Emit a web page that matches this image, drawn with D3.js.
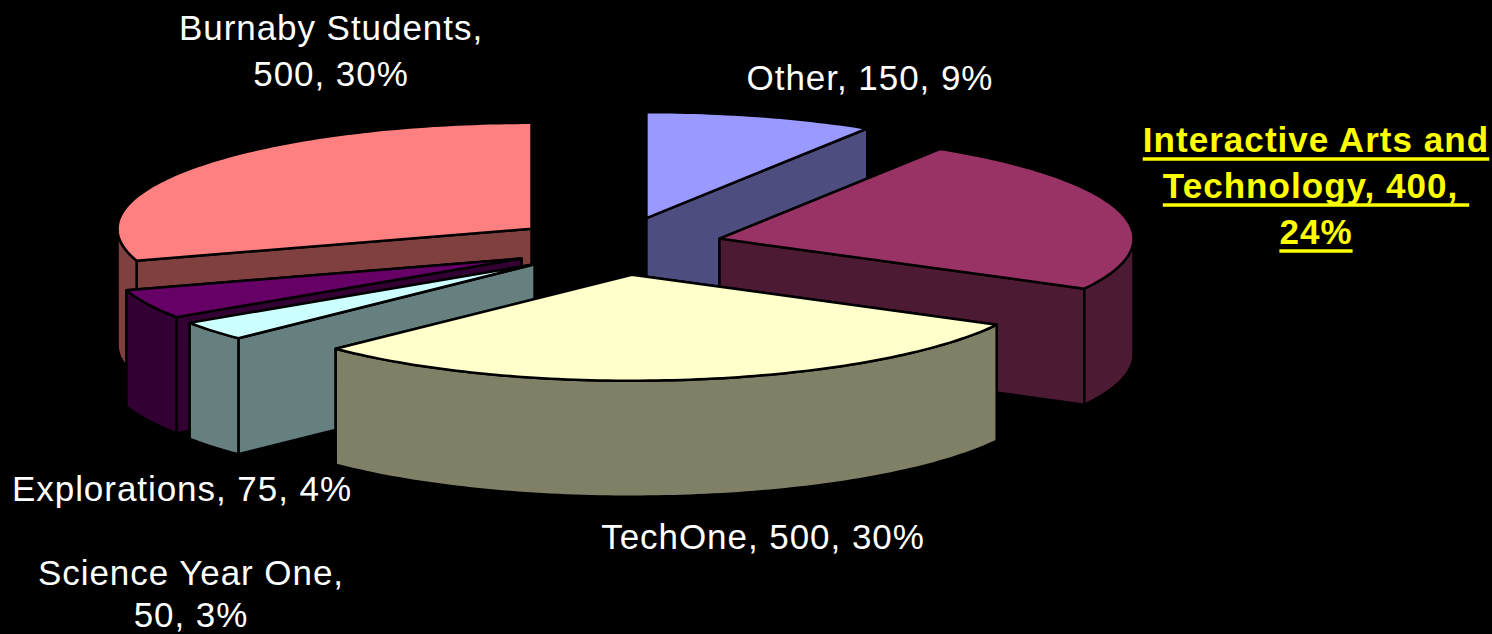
<!DOCTYPE html>
<html>
<head>
<meta charset="utf-8">
<script src="https://cdn.jsdelivr.net/npm/d3@7"></script>
<style>
  html, body { margin: 0; background: #000; overflow: hidden; }
  text { font-family: "Liberation Sans", Arial, sans-serif; font-size: 35px; fill: #fff; letter-spacing: 0.95px; white-space: pre; }
  text.highlight { font-weight: bold; fill: #ffff00; letter-spacing: 1.05px; }
</style>
</head>
<body>
<script>
// data, clockwise from 12 o'clock
const categories = ["Other", "Interactive Arts and Technology", "TechOne", "Science Year One", "Explorations", "Burnaby Students"];
const values = [150, 400, 500, 50, 75, 500];
const topColors = ["#9999ff", "#993366", "#ffffcc", "#ccffff", "#660066", "#ff8080"];
const sideColors = ["#4d4d80", "#4d1a33", "#808066", "#668080", "#330033", "#804040"];
// label text split in lines
const labelLines = [
  ["Other, 150, 9%"],
  ["Interactive Arts and", "Technology, 400, ", "24%"],
  ["TechOne, 500, 30%"],
  ["Science Year One,", "50, 3%"],
  ["Explorations, 75, 4%"],
  ["Burnaby Students,", "500, 30%"]
];

const width = 1492, height = 634;
const center = { x: 617, y: 246 };
const radius = { x: 414, y: 106 };
const explode = { x: 106, y: 29 };
const depth = 116;

// where each label sits (centre x, first baseline y)
const labelPos = [[870, 90], [1316, 152], [763, 549], [191, 585], [182, 501], [331, 40]];
const lineHeight = [0, 46, 0, 42, 0, 46];

const svg = d3.select("body").append("svg")
  .attr("width", width)
  .attr("height", height);

svg.append("rect")
  .attr("width", width)
  .attr("height", height)
  .attr("fill", "#000");

// x/y scales take the unit circle to the flattened ellipse
const xScale = d3.scaleLinear().domain([-1, 1]).range([-radius.x, radius.x]);
const yScale = d3.scaleLinear().domain([-1, 1]).range([-radius.y, radius.y]);

const pie = d3.pie().sort(null).value(d => d)(values);
const line = d3.line();

function rimPoint(a, drop) {
  return [xScale(Math.sin(a)), yScale(-Math.cos(a)) + drop];
}

function arcPoints(a0, a1, drop) {
  const n = Math.max(2, Math.ceil((a1 - a0) / 0.02));
  return d3.range(n + 1).map(i => rimPoint(a0 + (a1 - a0) * i / n, drop));
}

// back slices first, nearest last
const drawOrder = [5, 0, 1, 4, 3, 2];

drawOrder.forEach(i => {
  const d = pie[i];
  const mid = (d.startAngle + d.endAngle) / 2;
  const g = svg.append("g")
    .attr("transform", `translate(${center.x + explode.x * Math.sin(mid)},${center.y - explode.y * Math.cos(mid)})`)
    .attr("stroke", "#000")
    .attr("stroke-width", 2.5)
    .attr("stroke-linejoin", "round");

  // cut faces, the one lower on screen goes on top
  [d.startAngle, d.endAngle]
    .sort((a, b) => rimPoint(a, 0)[1] - rimPoint(b, 0)[1])
    .forEach(a => {
      g.append("path")
        .attr("d", line([[0, 0], rimPoint(a, 0), rimPoint(a, depth), [0, depth]]) + "Z")
        .attr("fill", sideColors[i]);
    });

  // outer wall, only the part that faces us
  const a0 = Math.max(d.startAngle, Math.PI / 2);
  const a1 = Math.min(d.endAngle, Math.PI * 1.5);
  if (a1 > a0) {
    g.append("path")
      .attr("d", line(arcPoints(a0, a1, 0).concat(arcPoints(a0, a1, depth).reverse())) + "Z")
      .attr("fill", sideColors[i]);
  }

  // top
  g.append("path")
    .attr("d", line([[0, 0]].concat(arcPoints(d.startAngle, d.endAngle, 0))) + "Z")
    .attr("fill", topColors[i]);
});

// labels
labelLines.forEach((lines, i) => {
  const t = svg.append("text")
    .attr("class", i === 1 ? "highlight" : null)
    .attr("text-anchor", "middle")
    .attr("x", labelPos[i][0])
    .attr("y", labelPos[i][1]);
  lines.forEach((s, j) => {
    const span = t.append("tspan")
      .attr("x", labelPos[i][0])
      .attr("dy", j === 0 ? 0 : lineHeight[i])
      .text(s);
    // the selected label has a heavy underline
    if (i === 1) {
      const len = span.node().getComputedTextLength();
      svg.append("line")
        .attr("x1", labelPos[i][0] - len / 2)
        .attr("x2", labelPos[i][0] + len / 2)
        .attr("y1", labelPos[i][1] + j * lineHeight[i] + 7)
        .attr("y2", labelPos[i][1] + j * lineHeight[i] + 7)
        .attr("stroke", "#ffff00")
        .attr("stroke-width", 3.5);
    }
  });
});
</script>
</body>
</html>
